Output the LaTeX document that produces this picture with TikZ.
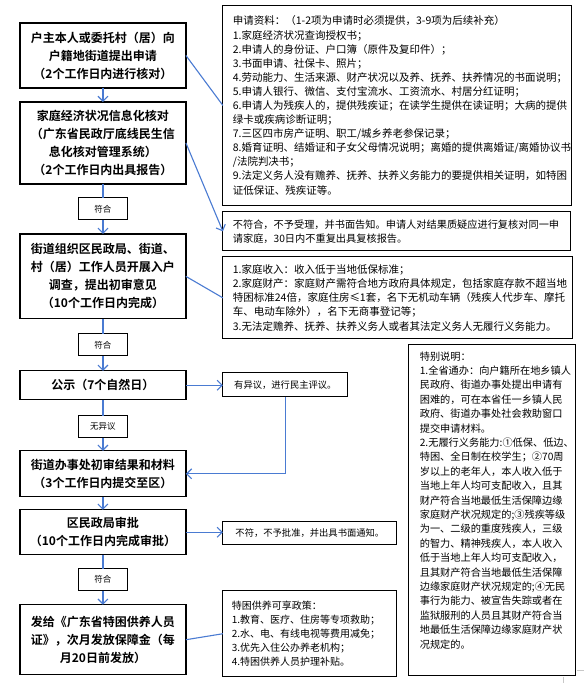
\documentclass[tikz,border=0pt]{standalone}
\usepackage{fontspec}
\setmainfont{Noto Sans CJK SC}[BoldFont={Noto Sans CJK SC Bold}]
\usetikzlibrary{arrows.meta}
\definecolor{flowline}{HTML}{4A7BD2}
\definecolor{boxedge}{HTML}{000000}
\definecolor{cropmark}{HTML}{C8C8C8}

\begin{document}
\begin{tikzpicture}[
  x=1pt,
  y=-1pt,
  flow/.style={draw=flowline, line width=1.1pt},
  arrow/.style={flow, -{Straight Barb[length=5pt, width=10pt]}},
  mainbox/.style={draw=boxedge, line width=1.2pt, minimum width=166pt, align=center,
    inner sep=0pt, outer sep=0pt, font=\fontsize{12}{18}\selectfont\bfseries},
  okbox/.style={draw=boxedge, line width=0.9pt, minimum width=49pt, minimum height=22pt,
    inner sep=0pt, outer sep=0pt, font=\fontsize{8.5}{10}\selectfont},
  smallbox/.style={draw=boxedge, line width=0.9pt, inner sep=0pt, outer sep=0pt,
    font=\fontsize{9.3}{11}\selectfont},
  infobox/.style={draw=boxedge, line width=0.9pt, anchor=north west, align=left,
    inner xsep=10pt, inner ysep=0pt, outer sep=0pt, font=\fontsize{10.5}{14.1}\selectfont}
]
  \fill[white] (0,0) rectangle (584,683);

  \node[mainbox, minimum height=65pt] (apply) at (103,55.5)
    {户主本人或委托村（居）向\\户籍地街道提出申请\\（2个工作日内进行核对）};
  \node[mainbox, minimum height=82pt] (verify) at (103,143)
    {家庭经济状况信息化核对\\（广东省民政厅底线民生信\\息化核对管理系统）\\（2个工作日内出具报告）};
  \node[okbox] (ok1) at (103,209) {符合};
  \node[mainbox, minimum height=85pt] (survey) at (103,276.5)
    {街道组织区民政局、街道、\\村（居）工作人员开展入户\\调查，提出初审意见\\（10个工作日内完成）};
  \node[okbox] (ok2) at (103,345) {符合};
  \node[mainbox, minimum height=29pt] (publish) at (103,385.5) {公示（7个自然日）};
  \node[okbox] (noobj) at (103,427) {无异议};
  \node[mainbox, minimum height=46pt] (submit) at (103,474)
    {街道办事处初审结果和材料\\（3个工作日内提交至区）};
  \node[mainbox, minimum height=45pt] (approve) at (103,532.5)
    {区民政局审批\\（10个工作日内完成审批）};
  \node[okbox] (ok3) at (103,580) {符合};
  \node[mainbox, minimum height=70pt] (issue) at (103,640)
    {发给《广东省特困供养人员\\证》，次月发放保障金（每\\月20日前发放）};

  \node[infobox, text width=329pt, minimum height=201pt] (docs) at (223,5)
    {申请资料：（1-2项为申请时必须提供，3-9项为后续补充）\\
     1.家庭经济状况查询授权书；\\
     2.申请人的身份证、户口簿（原件及复印件）；\\
     3.书面申请、社保卡、照片；\\
     4.劳动能力、生活来源、财产状况以及养、抚养、扶养情况的书面说明；\\
     5.申请人银行、微信、支付宝流水、工资流水、村居分红证明；\\
     6.申请人为残疾人的，提供残疾证；在读学生提供在读证明；大病的提供\\
     绿卡或疾病诊断证明；\\
     7.三区四市房产证明、职工/城乡养老参保记录；\\
     8.婚育证明、结婚证和子女父母情况说明；离婚的提供离婚证/离婚协议书\\
     /法院判决书；\\
     9.法定义务人没有赡养、抚养、扶养义务能力的要提供相关证明，如特困\\
     证低保证、残疾证等。};
  \node[infobox, text width=328pt, minimum height=39pt,
    font=\fontsize{10.2}{14.1}\selectfont] (reject) at (223,212)
    {不符合，不予受理，并书面告知。申请人对结果质疑应进行复核对同一申\\
     请家庭，30日内不重复出具复核报告。};
  \node[infobox, text width=330pt, minimum height=82pt] (rules) at (223,257)
    {1.家庭收入：收入低于当地低保标准；\\
     2.家庭财产：家庭财产需符合地方政府具体规定，包括家庭存款不超当地\\
     特困标准24倍，家庭住房≤1套，名下无机动车辆（残疾人代步车、摩托\\
     车、电动车除外），名下无商事登记等；\\
     3.无法定赡养、抚养、扶养义务人或者其法定义务人无履行义务能力。};
  \node[smallbox, minimum width=125pt, minimum height=24pt] (dispute) at (285.5,385)
    {有异议，进行民主评议。};
  \node[smallbox, minimum width=174pt, minimum height=23pt] (deny) at (310,533.5)
    {不符，不予批准，并出具书面通知。};
  \node[infobox, inner xsep=9pt, text width=156pt, minimum height=86pt,
    font=\fontsize{10}{13.8}\selectfont] (policy) at (223,591)
    {特困供养可享政策：\\
     1.教育、医疗、住房等专项救助；\\
     2.水、电、有线电视等费用减免；\\
     3.优先入住公办养老机构；\\
     4.特困供养人员护理补贴。};
  \node[infobox, inner xsep=11pt, text width=145pt, minimum height=331pt, text depth=309pt,
    font=\fontsize{10.2}{14.4}\selectfont] (note) at (409,345)
    {特别说明：\\
     1.全省通办：向户籍所在地乡镇人\\
     民政府、街道办事处提出申请有\\
     困难的，可在本省任一乡镇人民\\
     政府、街道办事处社会救助窗口\\
     提交申请材料。\\
     2.无履行义务能力:①低保、低边、\\
     特困、全日制在校学生；②70周\\
     岁以上的老年人，本人收入低于\\
     当地上年人均可支配收入，且其\\
     财产符合当地最低生活保障边缘\\
     家庭财产状况规定的;③残疾等级\\
     为一、二级的重度残疾人，三级\\
     的智力、精神残疾人，本人收入\\
     低于当地上年人均可支配收入，\\
     且其财产符合当地最低生活保障\\
     边缘家庭财产状况规定的;④无民\\
     事行为能力、被宣告失踪或者在\\
     监狱服刑的人员且其财产符合当\\
     地最低生活保障边缘家庭财产状\\
     况规定的。};

  \draw[arrow] (apply) -- (verify);
  \draw[flow] (verify) -- (ok1);
  \draw[arrow] (ok1) -- (survey);
  \draw[flow] (survey) -- (ok2);
  \draw[arrow] (ok2) -- (publish);
  \draw[flow] (publish) -- (noobj);
  \draw[arrow] (noobj) -- (submit);
  \draw[arrow] (submit) -- (approve);
  \draw[flow] (approve) -- (ok3);
  \draw[arrow] (ok3) -- (issue);

  \draw[flow] (apply.east) -- (docs.west);
  \draw[arrow] (verify.east) -- (reject.west);
  \draw[flow] (survey.east) -- (rules.west);
  \draw[arrow] (publish.east) -- (publish.east -| dispute.west);
  \draw[arrow] (dispute.south) |- (submit.east);
  \draw[arrow] (approve.east) -- (approve.east -| deny.west);
  \draw[flow] (issue.east) -- (policy.west);

  \draw[cropmark, line width=0.6pt] (577,671) -- (584,671) (564,677) -- (564,683);
\end{tikzpicture}
\end{document}
